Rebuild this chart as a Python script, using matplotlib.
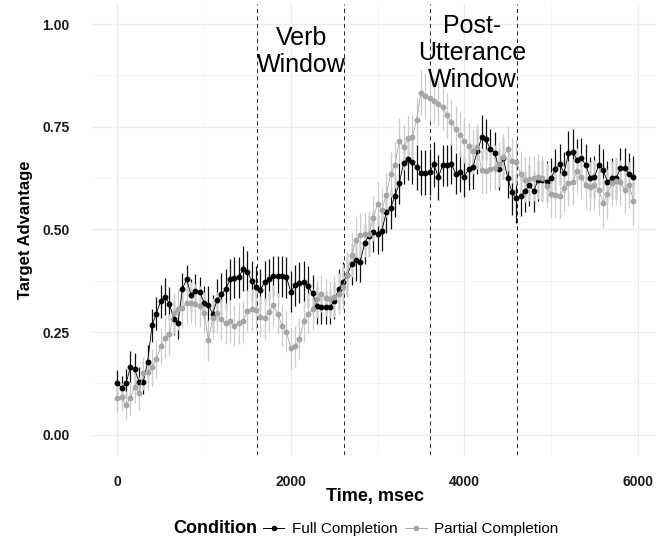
import numpy as np
import matplotlib
matplotlib.use("Agg")
import matplotlib.pyplot as plt
from matplotlib.lines import Line2D

plt.rcParams['font.family'] = ['Liberation Sans', 'DejaVu Sans']

###################################################################
# Data (50 ms bins)
###################################################################
time_ms = np.arange(0, 6000, 50)

full_mean = [
    0.127, 0.113, 0.125, 0.164, 0.159, 0.129, 0.129, 0.178, 0.266, 0.295,
    0.325, 0.336, 0.319, 0.282, 0.273, 0.355, 0.379, 0.339, 0.351, 0.348,
    0.321, 0.316, 0.295, 0.328, 0.343, 0.354, 0.378, 0.382, 0.383, 0.404,
    0.397, 0.374, 0.360, 0.353, 0.372, 0.379, 0.386, 0.386, 0.386, 0.383,
    0.348, 0.364, 0.370, 0.373, 0.361, 0.344, 0.314, 0.310, 0.310, 0.310,
    0.326, 0.354, 0.371, 0.389, 0.415, 0.425, 0.421, 0.466, 0.485, 0.494,
    0.490, 0.497, 0.542, 0.552, 0.581, 0.612, 0.661, 0.671, 0.665, 0.651,
    0.638, 0.638, 0.640, 0.659, 0.627, 0.656, 0.656, 0.660, 0.636, 0.640,
    0.628, 0.647, 0.653, 0.690, 0.724, 0.719, 0.695, 0.687, 0.647, 0.673,
    0.626, 0.590, 0.576, 0.582, 0.593, 0.608, 0.593, 0.620, 0.620, 0.616,
    0.624, 0.646, 0.659, 0.638, 0.685, 0.689, 0.669, 0.673, 0.657, 0.626,
    0.628, 0.657, 0.645, 0.616, 0.624, 0.624, 0.649, 0.649, 0.636, 0.628,
]
full_err = [
    0.030, 0.030, 0.035, 0.040, 0.040, 0.035, 0.030, 0.040, 0.040, 0.040,
    0.040, 0.045, 0.040, 0.040, 0.040, 0.040, 0.035, 0.040, 0.040, 0.035,
    0.040, 0.045, 0.045, 0.050, 0.050, 0.050, 0.050, 0.050, 0.050, 0.055,
    0.050, 0.050, 0.050, 0.050, 0.050, 0.050, 0.050, 0.050, 0.050, 0.050,
    0.050, 0.050, 0.050, 0.050, 0.050, 0.045, 0.045, 0.040, 0.040, 0.040,
    0.045, 0.050, 0.050, 0.050, 0.050, 0.050, 0.050, 0.050, 0.050, 0.050,
    0.050, 0.050, 0.050, 0.050, 0.050, 0.050, 0.050, 0.050, 0.055, 0.055,
    0.055, 0.055, 0.055, 0.055, 0.055, 0.050, 0.050, 0.050, 0.050, 0.050,
    0.050, 0.050, 0.055, 0.055, 0.055, 0.050, 0.050, 0.050, 0.050, 0.050,
    0.050, 0.055, 0.060, 0.050, 0.050, 0.050, 0.050, 0.050, 0.050, 0.050,
    0.050, 0.050, 0.050, 0.050, 0.055, 0.055, 0.050, 0.050, 0.050, 0.050,
    0.050, 0.050, 0.050, 0.050, 0.050, 0.050, 0.050, 0.050, 0.050, 0.050,
]

partial_mean = [
    0.090, 0.092, 0.072, 0.089, 0.117, 0.101, 0.150, 0.153, 0.164, 0.184,
    0.216, 0.236, 0.245, 0.296, 0.305, 0.309, 0.320, 0.321, 0.318, 0.313,
    0.297, 0.230, 0.283, 0.297, 0.281, 0.271, 0.276, 0.265, 0.272, 0.276,
    0.302, 0.305, 0.304, 0.287, 0.283, 0.300, 0.315, 0.294, 0.265, 0.251,
    0.210, 0.215, 0.234, 0.276, 0.294, 0.305, 0.330, 0.343, 0.334, 0.330,
    0.336, 0.343, 0.360, 0.390, 0.438, 0.474, 0.486, 0.488, 0.490, 0.527,
    0.563, 0.547, 0.585, 0.634, 0.657, 0.716, 0.700, 0.722, 0.724, 0.766,
    0.833, 0.825, 0.820, 0.813, 0.806, 0.798, 0.778, 0.761, 0.745, 0.731,
    0.716, 0.703, 0.690, 0.701, 0.644, 0.642, 0.648, 0.650, 0.659, 0.677,
    0.697, 0.667, 0.663, 0.636, 0.621, 0.623, 0.625, 0.628, 0.625, 0.606,
    0.586, 0.584, 0.582, 0.600, 0.612, 0.616, 0.643, 0.628, 0.608, 0.604,
    0.608, 0.596, 0.565, 0.586, 0.612, 0.618, 0.615, 0.596, 0.608, 0.570,
]
partial_err = [
    0.035, 0.035, 0.035, 0.040, 0.040, 0.040, 0.040, 0.045, 0.045, 0.045,
    0.045, 0.050, 0.050, 0.050, 0.050, 0.050, 0.050, 0.050, 0.050, 0.050,
    0.050, 0.050, 0.050, 0.050, 0.050, 0.050, 0.050, 0.050, 0.050, 0.050,
    0.050, 0.050, 0.050, 0.050, 0.050, 0.050, 0.050, 0.050, 0.050, 0.050,
    0.050, 0.050, 0.050, 0.050, 0.050, 0.050, 0.045, 0.045, 0.045, 0.045,
    0.050, 0.050, 0.055, 0.055, 0.055, 0.055, 0.055, 0.055, 0.055, 0.055,
    0.055, 0.055, 0.055, 0.055, 0.055, 0.055, 0.055, 0.055, 0.055, 0.055,
    0.055, 0.055, 0.055, 0.055, 0.055, 0.055, 0.055, 0.055, 0.055, 0.055,
    0.055, 0.055, 0.055, 0.055, 0.055, 0.055, 0.055, 0.055, 0.055, 0.055,
    0.055, 0.055, 0.055, 0.055, 0.055, 0.055, 0.055, 0.055, 0.055, 0.055,
    0.055, 0.055, 0.055, 0.055, 0.055, 0.055, 0.055, 0.055, 0.055, 0.060,
    0.060, 0.060, 0.060, 0.060, 0.055, 0.055, 0.055, 0.055, 0.055, 0.060,
]

window_edges = [1610, 2610, 3610, 4610]
conditions = ["Full Completion", "Partial Completion"]

###################################################################
# Figure
###################################################################
fig = plt.figure(figsize=(6.56, 5.39), dpi=100)
ax = fig.add_axes([0.1395, 0.1555, 0.8655, 0.8378])

ax.set_xlim(-297.5, 6247.5)
ax.set_ylim(-0.05, 1.05)

ax.set_xticks([0, 2000, 4000, 6000])
ax.set_xticks([1000, 3000, 5000], minor=True)
ax.set_yticks([0, 0.25, 0.5, 0.75, 1.0])
ax.set_yticks([0.125, 0.375, 0.625, 0.875], minor=True)
ax.set_yticklabels(["0.00", "0.25", "0.50", "0.75", "1.00"])
ax.grid(which='major', color='#ebebeb', lw=0.9)
ax.grid(which='minor', color='#f2f2f2', lw=0.5)
ax.set_axisbelow(True)
for s in ax.spines.values():
    s.set_visible(False)
ax.tick_params(which='both', length=0)
ax.tick_params(axis='x', pad=14, labelsize=10, labelcolor='#1a1a1a')
ax.tick_params(axis='y', pad=16, labelsize=10, labelcolor='#1a1a1a')
for lab in ax.get_xticklabels() + ax.get_yticklabels():
    lab.set_fontweight('bold')

for x in window_edges:
    ax.axvline(x, color='black', lw=0.6, ls=(0, (5, 4)), zorder=1.5)

# full completion (black)
ax.errorbar(time_ms, full_mean, yerr=full_err, fmt='none', ecolor='#111111',
            elinewidth=0.9, zorder=2)
ax.plot(time_ms, full_mean, color='black', lw=0.6, marker='o', ms=3.2,
        mec='black', mfc='black', zorder=3)

# partial completion (gray)
ax.errorbar(time_ms, partial_mean, yerr=partial_err, fmt='none', ecolor='#cccccc',
            elinewidth=0.9, zorder=2.2)
ax.plot(time_ms, partial_mean, color='#aaaaaa', lw=0.6, marker='o', ms=3.2,
        mec='#a6a6a6', mfc='#a6a6a6', zorder=3.2)

ax.text(2126, 0.934, "Verb\nWindow", ha='center', va='center', fontsize=18,
        linespacing=1.15)
ax.text(4090, 0.929, "Post-\nUtterance\nWindow", ha='center', va='center',
        fontsize=18, linespacing=1.15)

ax.set_xlabel("Time, msec", fontsize=13, fontweight='bold')
ax.xaxis.set_label_coords(0.5, -0.072)
ax.set_ylabel("Target Advantage", fontsize=12, fontweight='bold')
ax.yaxis.set_label_coords(-0.103, 0.5)

## legend ##
fig.text(173 / 656, 0.0186, "Condition", ha='left', va='center', fontsize=13,
         fontweight='bold')
handles = [
    Line2D([0], [0], color='black', lw=0.7, marker='o', ms=3, mfc='black', mec='black'),
    Line2D([0], [0], color='#aaaaaa', lw=0.7, marker='o', ms=3, mfc='#a6a6a6', mec='#a6a6a6'),
]
fig.legend(handles, conditions, ncol=2, loc='center left',
           bbox_to_anchor=(263 / 656, 0.0186), frameon=False, fontsize=11,
           handlelength=1.4, handletextpad=0.5, columnspacing=0.5,
           borderpad=0, borderaxespad=0)

fig.savefig("out.png", dpi=100)
